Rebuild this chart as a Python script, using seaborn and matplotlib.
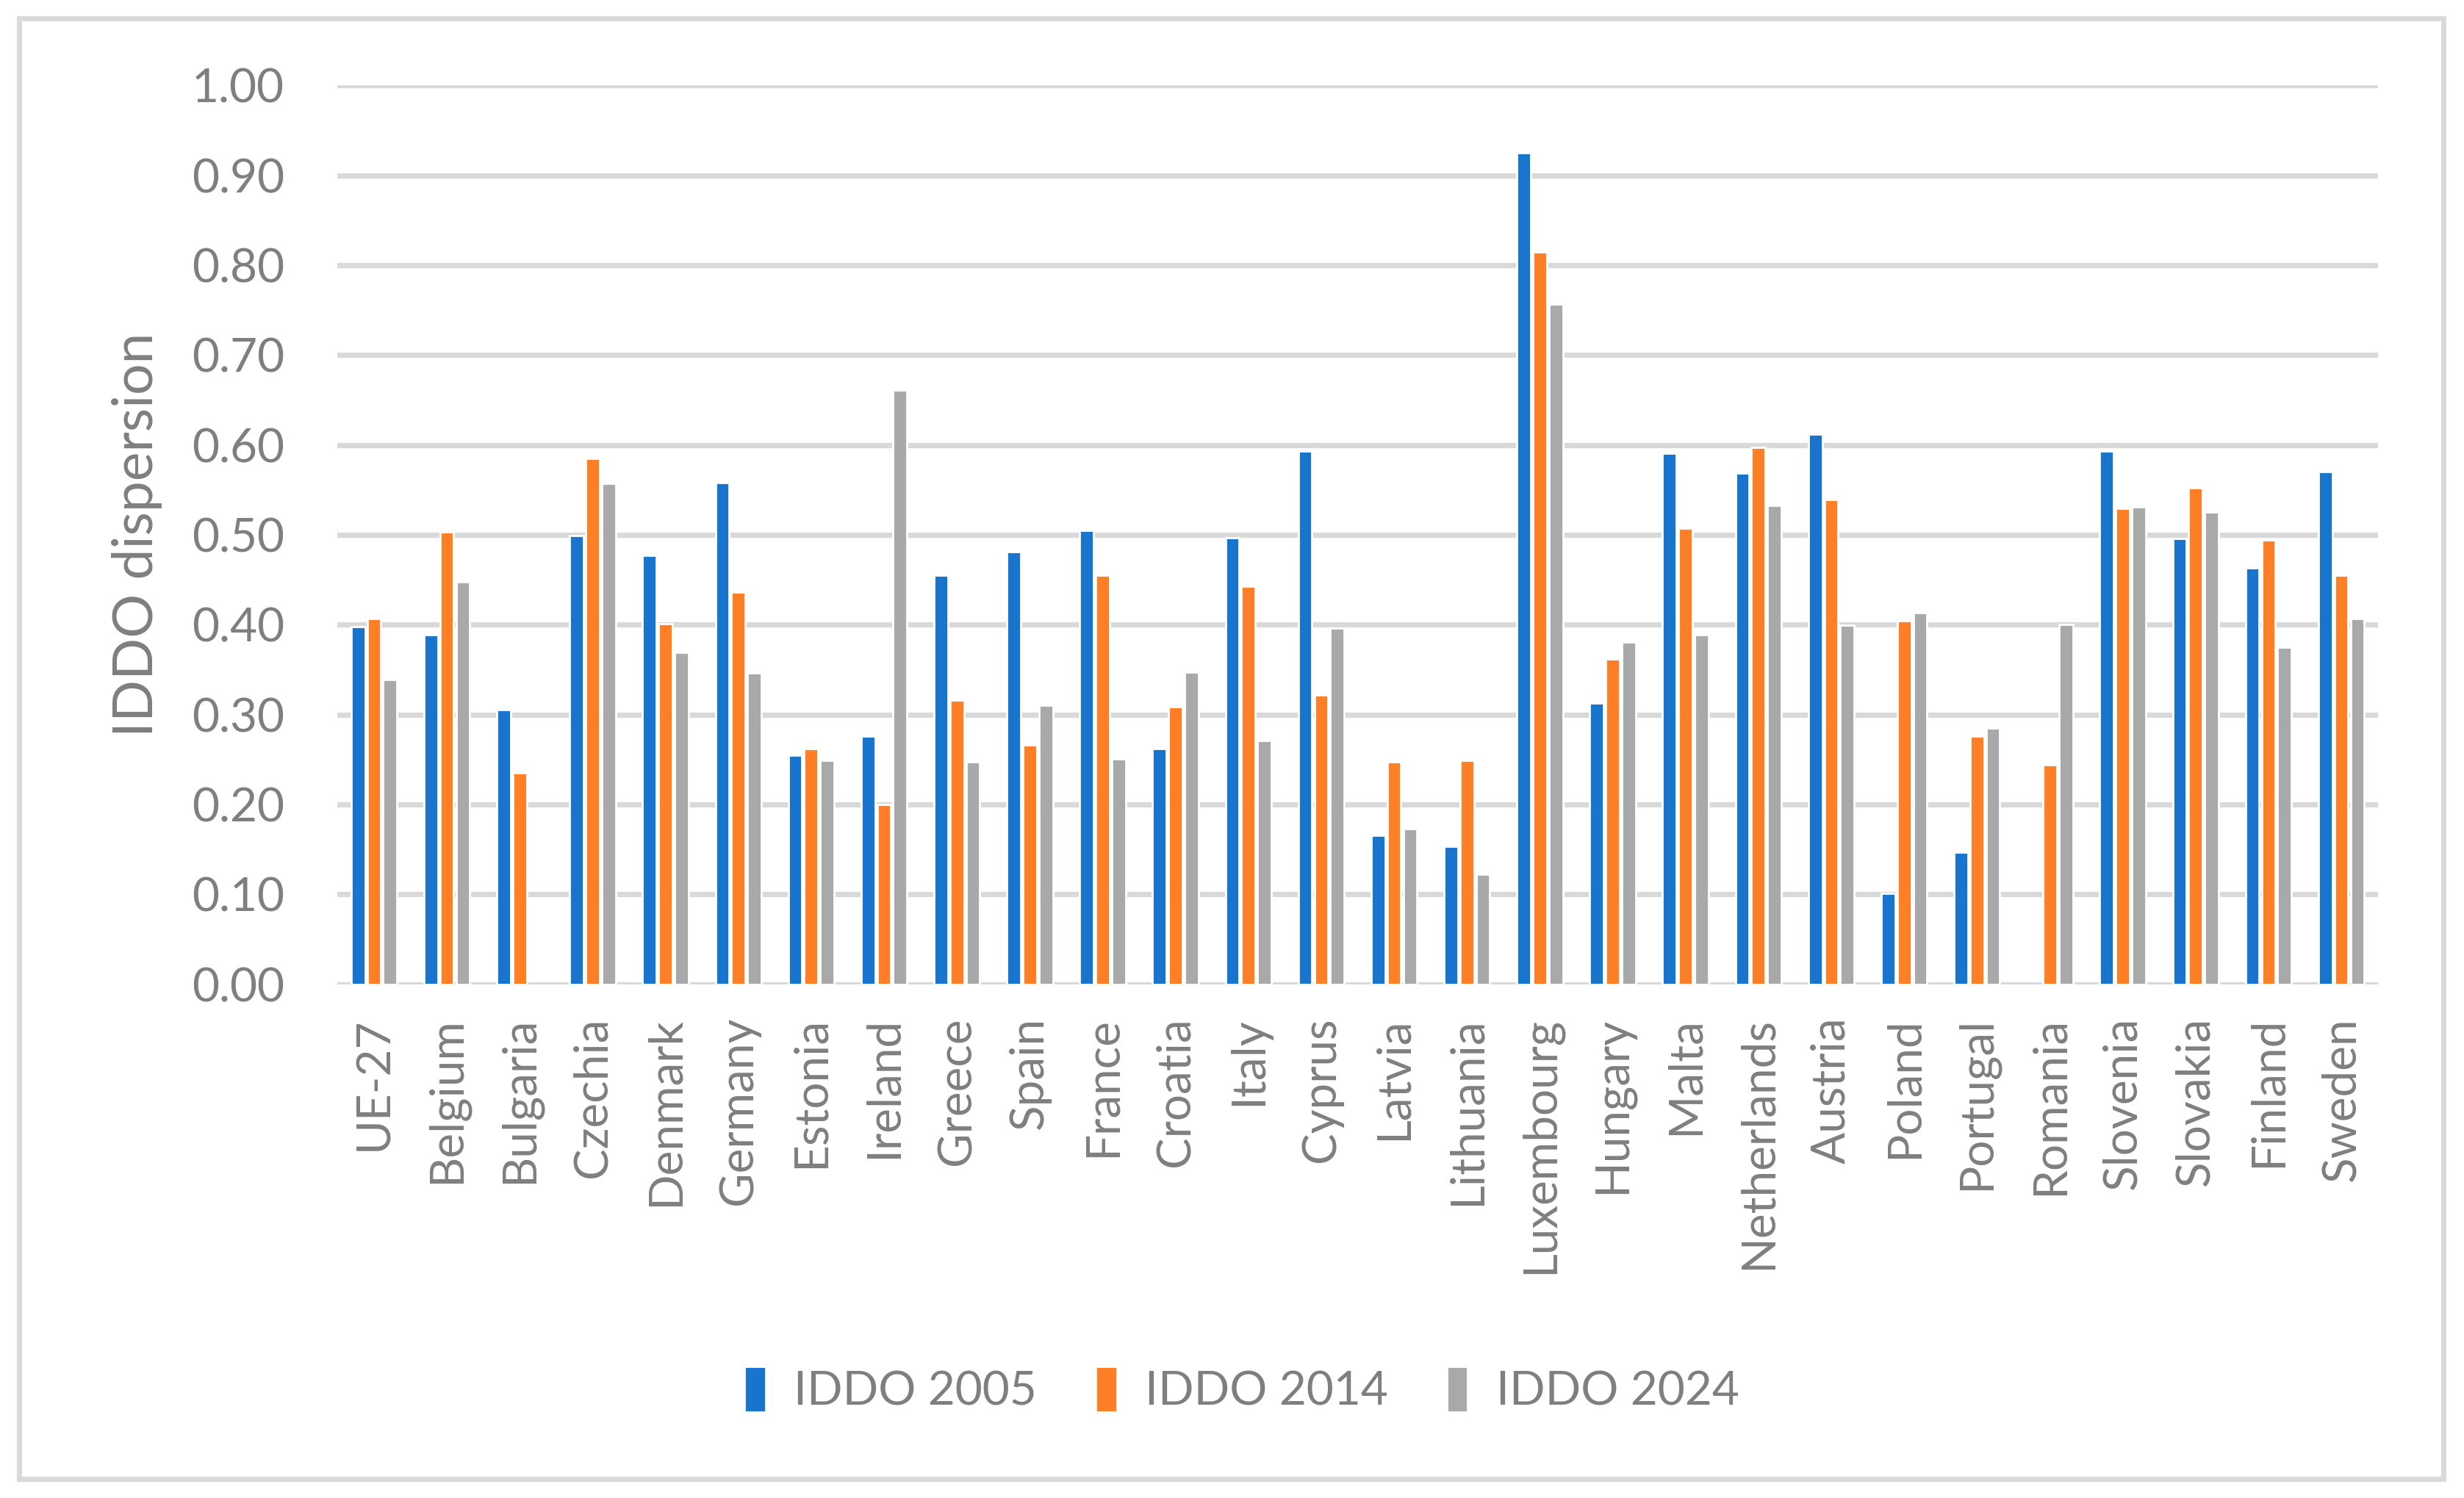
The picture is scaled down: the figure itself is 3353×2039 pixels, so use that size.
import numpy as np
import pandas as pd
import matplotlib
matplotlib.use("Agg")
import matplotlib.pyplot as plt
import seaborn as sns
from matplotlib.patches import Rectangle

# ==========================================
# DATA
# ==========================================
countries = [
    "UE-27", "Belgium", "Bulgaria", "Czechia", "Denmark", "Germany", "Estonia",
    "Ireland", "Greece", "Spain", "France", "Croatia", "Italy", "Cyprus",
    "Latvia", "Lithuania", "Luxembourg", "Hungary", "Malta", "Netherlands",
    "Austria", "Poland", "Portugal", "Romania", "Slovenia", "Slovakia",
    "Finland", "Sweden",
]
iddo_2005 = [
    0.398, 0.389, 0.305, 0.499, 0.477, 0.558, 0.255,
    0.276, 0.455, 0.481, 0.505, 0.262, 0.497, 0.593,
    0.166, 0.153, 0.925, 0.313, 0.591, 0.569,
    0.612, 0.101, 0.147, np.nan, 0.593, 0.496,
    0.463, 0.570,
]
iddo_2014 = [
    0.407, 0.503, 0.235, 0.585, 0.401, 0.436, 0.262,
    0.200, 0.316, 0.266, 0.455, 0.309, 0.443, 0.322,
    0.247, 0.249, 0.815, 0.362, 0.507, 0.597,
    0.539, 0.404, 0.276, 0.244, 0.529, 0.552,
    0.494, 0.455,
]
iddo_2024 = [
    0.339, 0.448, np.nan, 0.557, 0.369, 0.346, 0.249,
    0.661, 0.247, 0.310, 0.251, 0.347, 0.271, 0.396,
    0.173, 0.122, 0.757, 0.381, 0.389, 0.533,
    0.399, 0.413, 0.285, 0.400, 0.531, 0.525,
    0.375, 0.407,
]
series_names = ["IDDO 2005", "IDDO 2014", "IDDO 2024"]
colors = ["#1874CD", "#FF7F27", "#A9A9A9"]

df = pd.DataFrame({"country": countries,
                   series_names[0]: iddo_2005,
                   series_names[1]: iddo_2014,
                   series_names[2]: iddo_2024})
long_df = df.melt(id_vars="country", var_name="series", value_name="value").dropna()

# ==========================================
# PLOT
# ==========================================
sns.set_style("white")
plt.rcParams["font.family"] = ["Lato", "DejaVu Sans"]
TXT = "#7F7F7F"

fig = plt.figure(figsize=(16.765, 10.195), dpi=200)
ax = fig.add_axes([0.137, 0.343, 0.828, 0.600])

sns.barplot(
    data=long_df, x="country", y="value", hue="series",
    order=countries, hue_order=series_names, palette=colors,
    width=0.66, gap=0.14, errorbar=None, saturation=1, ax=ax,
)

ax.set_ylim(0, 1.0)
ax.set_yticks(np.arange(0, 1.01, 0.1))
ax.set_yticklabels([f"{v:.2f}" for v in np.arange(0, 1.01, 0.1)])
ax.set_xlim(-0.5, len(countries) - 0.5)
ax.yaxis.grid(True, color="#D9D9D9", linewidth=2.6)
ax.set_axisbelow(True)
for s in ax.spines.values():
    s.set_visible(False)

ax.tick_params(axis="y", length=0, pad=26, labelsize=23, labelcolor=TXT)
ax.tick_params(axis="x", length=0, pad=16, labelsize=23, labelcolor=TXT, rotation=90)

ax.set_xlabel("")
ax.set_ylabel("IDDO dispersion", fontsize=27, color=TXT)
ax.yaxis.set_label_coords(-0.086, 0.5)

handles, labels = ax.get_legend_handles_labels()
ax.legend(handles, labels, loc="center", bbox_to_anchor=(0.504, 0.072),
          bbox_transform=fig.transFigure, ncol=3, frameon=False,
          fontsize=23, labelcolor=TXT, handlelength=0.45, handleheight=1.1,
          handletextpad=0.6, columnspacing=1.25)

fig.patches.append(Rectangle((0.0077, 0.0126), 0.984, 0.975, transform=fig.transFigure,
                             fill=False, edgecolor="#D9D9D9", linewidth=2.5))

fig.savefig("out.png", dpi=200)
